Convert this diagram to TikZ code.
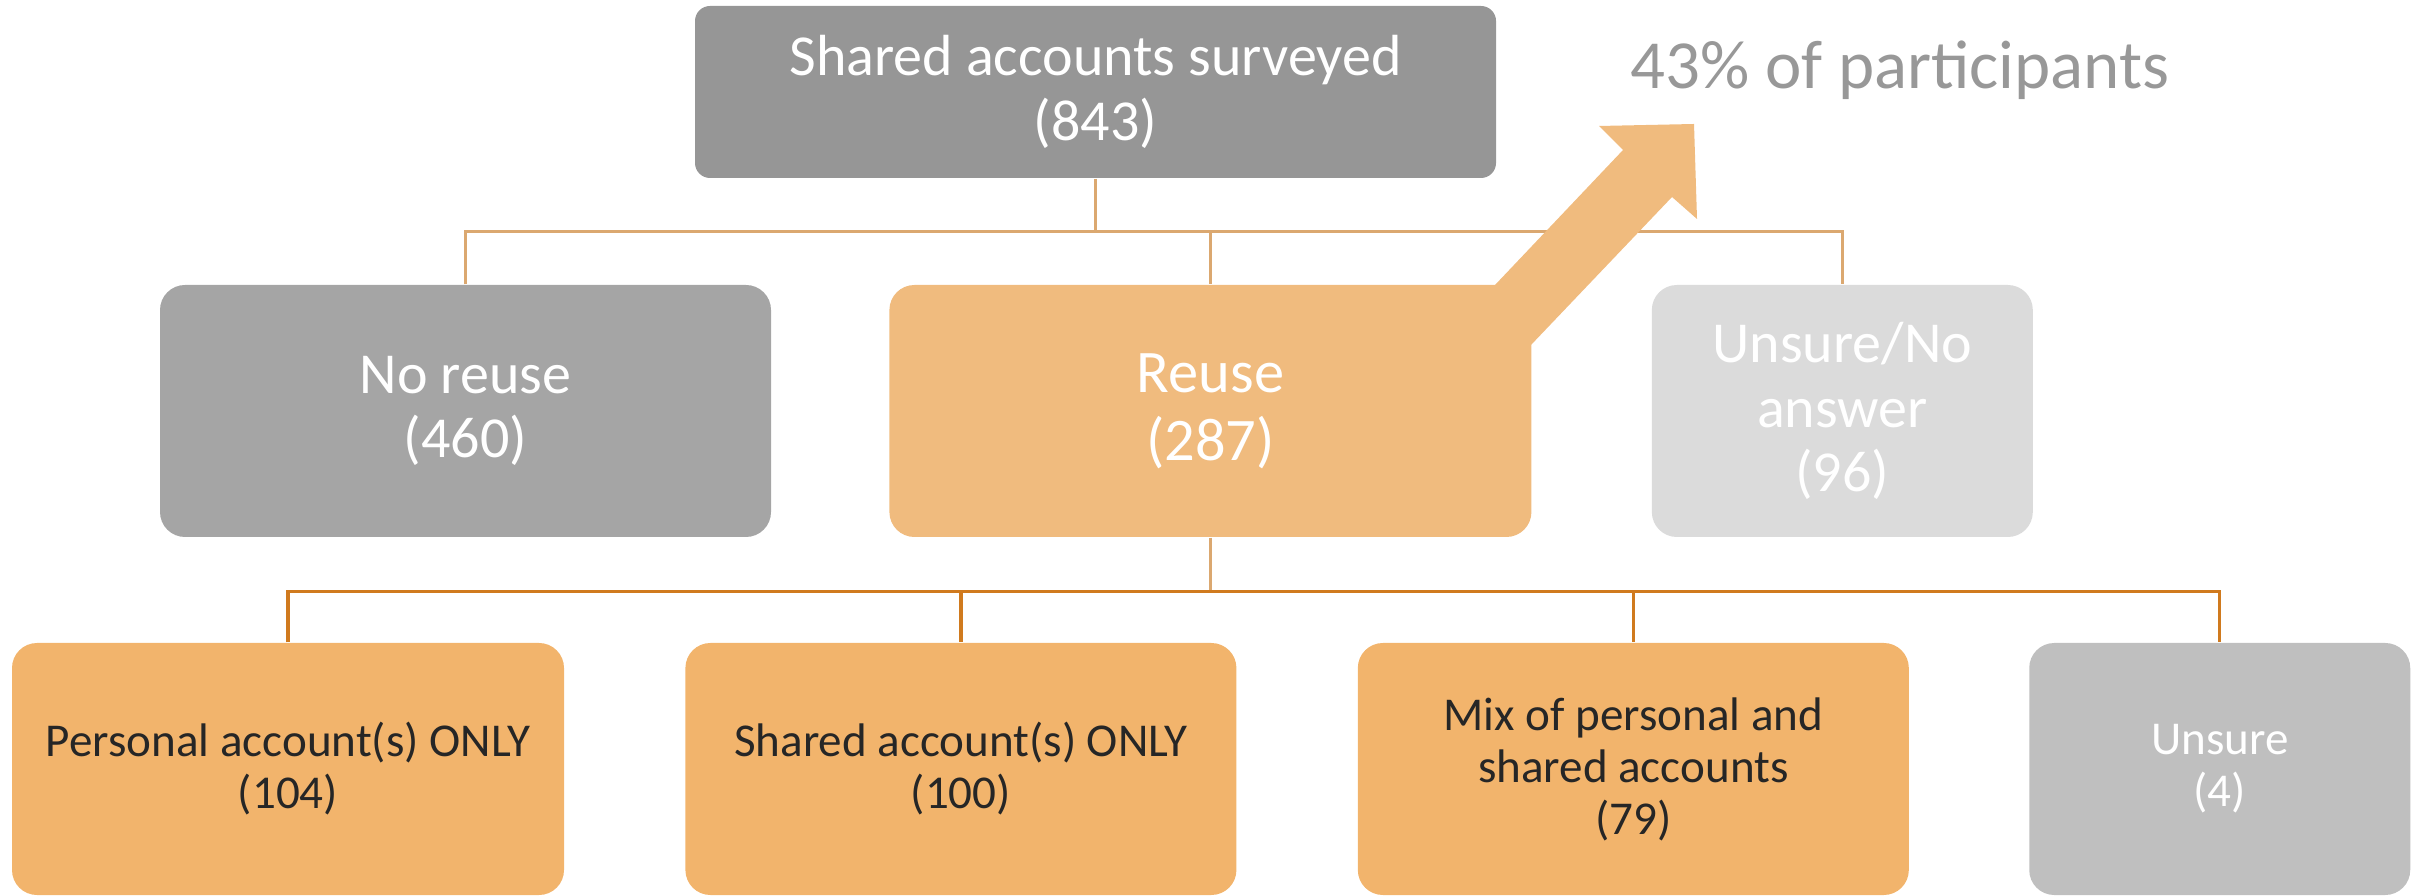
\documentclass[tikz,border=0pt]{standalone}
\usepackage{fontspec}
\setmainfont{Carlito}
\usepackage{tikz}
\usetikzlibrary{positioning, calc}
\definecolor{topgray}{HTML}{969696}
\definecolor{midgray}{HTML}{A5A5A5}
\definecolor{lightgray}{HTML}{DBDBDB}
\definecolor{leafgray}{HTML}{BFBFBF}
\definecolor{reusefill}{HTML}{F0BB7E}
\definecolor{leaforange}{HTML}{F2B46C}
\definecolor{uplinecol}{HTML}{DBA870}
\definecolor{downlinecol}{HTML}{D07A1E}
\definecolor{textdark}{HTML}{262626}
\definecolor{sharegray}{HTML}{989898}
\tikzstyle{box} = [rectangle, rounded corners=0.25cm, inner sep=0pt, minimum height=2.52cm, align=center, text=white]
\tikzstyle{midtext} = [font=\fontsize{16.5}{18.4}\selectfont]
\tikzstyle{leaftext} = [font=\fontsize{13.4}{14.8}\selectfont]
\tikzstyle{upline} = [draw=uplinecol, line width=0.8pt]
\tikzstyle{downline} = [draw=downlinecol, line width=0.9pt]

\begin{document}
\begin{tikzpicture}[node distance=1.2cm]
    \useasboundingbox (0,0) rectangle (24.17,8.95);
    % Survey total
    \node (surveyed) [box, rounded corners=0.15cm, fill=topgray, minimum width=8.01cm, minimum height=1.72cm, midtext] at (10.955,8.03) {Shared accounts surveyed\\(843)};
    \node (share) [anchor=base west, inner sep=0pt, text=sharegray, font=\fontsize{19.6}{22}\selectfont] at (16.3,8.06) {43\% of participants};

    % Second level
    \node (noreuse) [box, fill=midgray, minimum width=6.11cm, midtext] at (4.655,4.84) {No reuse\\(460)};
    \node (reuse) [box, fill=reusefill, minimum width=6.42cm, right=1.17cm of noreuse, font=\fontsize{17.2}{19.4}\selectfont] {Reuse\\(287)};
    \node (unsure) [box, fill=lightgray, minimum width=3.81cm, right=1.19cm of reuse, midtext] {Unsure/No\\answer\\(96)};

    % Third level
    \node (personal) [box, fill=leaforange, text=textdark, minimum width=5.52cm, leaftext] at (2.88,1.26) {Personal account(s) ONLY\\(104)};
    \node (sharedonly) [box, fill=leaforange, text=textdark, minimum width=5.51cm, right=of personal, leaftext] {Shared account(s) ONLY\\(100)};
    \node (mixed) [box, fill=leaforange, text=textdark, minimum width=5.51cm, right=of sharedonly, leaftext] {Mix of personal and\\shared accounts\\(79)};
    \node (unsureleaf) [box, fill=leafgray, minimum width=3.81cm, right=1.19cm of mixed, leaftext] {Unsure\\(4)};

    % Connectors
    \coordinate (upbus) at ($(surveyed.south)+(0,-0.53)$);
    \draw [upline] (surveyed.south) -- (upbus);
    \draw [upline] (noreuse.north) |- (upbus) -| (unsure.north);
    \draw [upline] (upbus -| reuse.north) -- (reuse.north);

    \coordinate (downbus) at ($(reuse.south)+(0,-0.54)$);
    \draw [upline] (reuse.south) -- (downbus);
    \draw [downline] (personal.north) |- (downbus) -| (unsureleaf.north);
    \draw [downline] (downbus -| sharedonly.north) -- (sharedonly.north);
    \draw [downline] (downbus -| mixed.north) -- (mixed.north);

    % Growth arrow out of Reuse
    \fill [reusefill] (14.95,6.10) -- (16.23,7.45) -- (15.99,7.69) -- (16.94,7.71) -- (16.97,6.76) -- (16.72,6.98) -- (15.30,5.49) -- cycle;
\end{tikzpicture}
\end{document}
